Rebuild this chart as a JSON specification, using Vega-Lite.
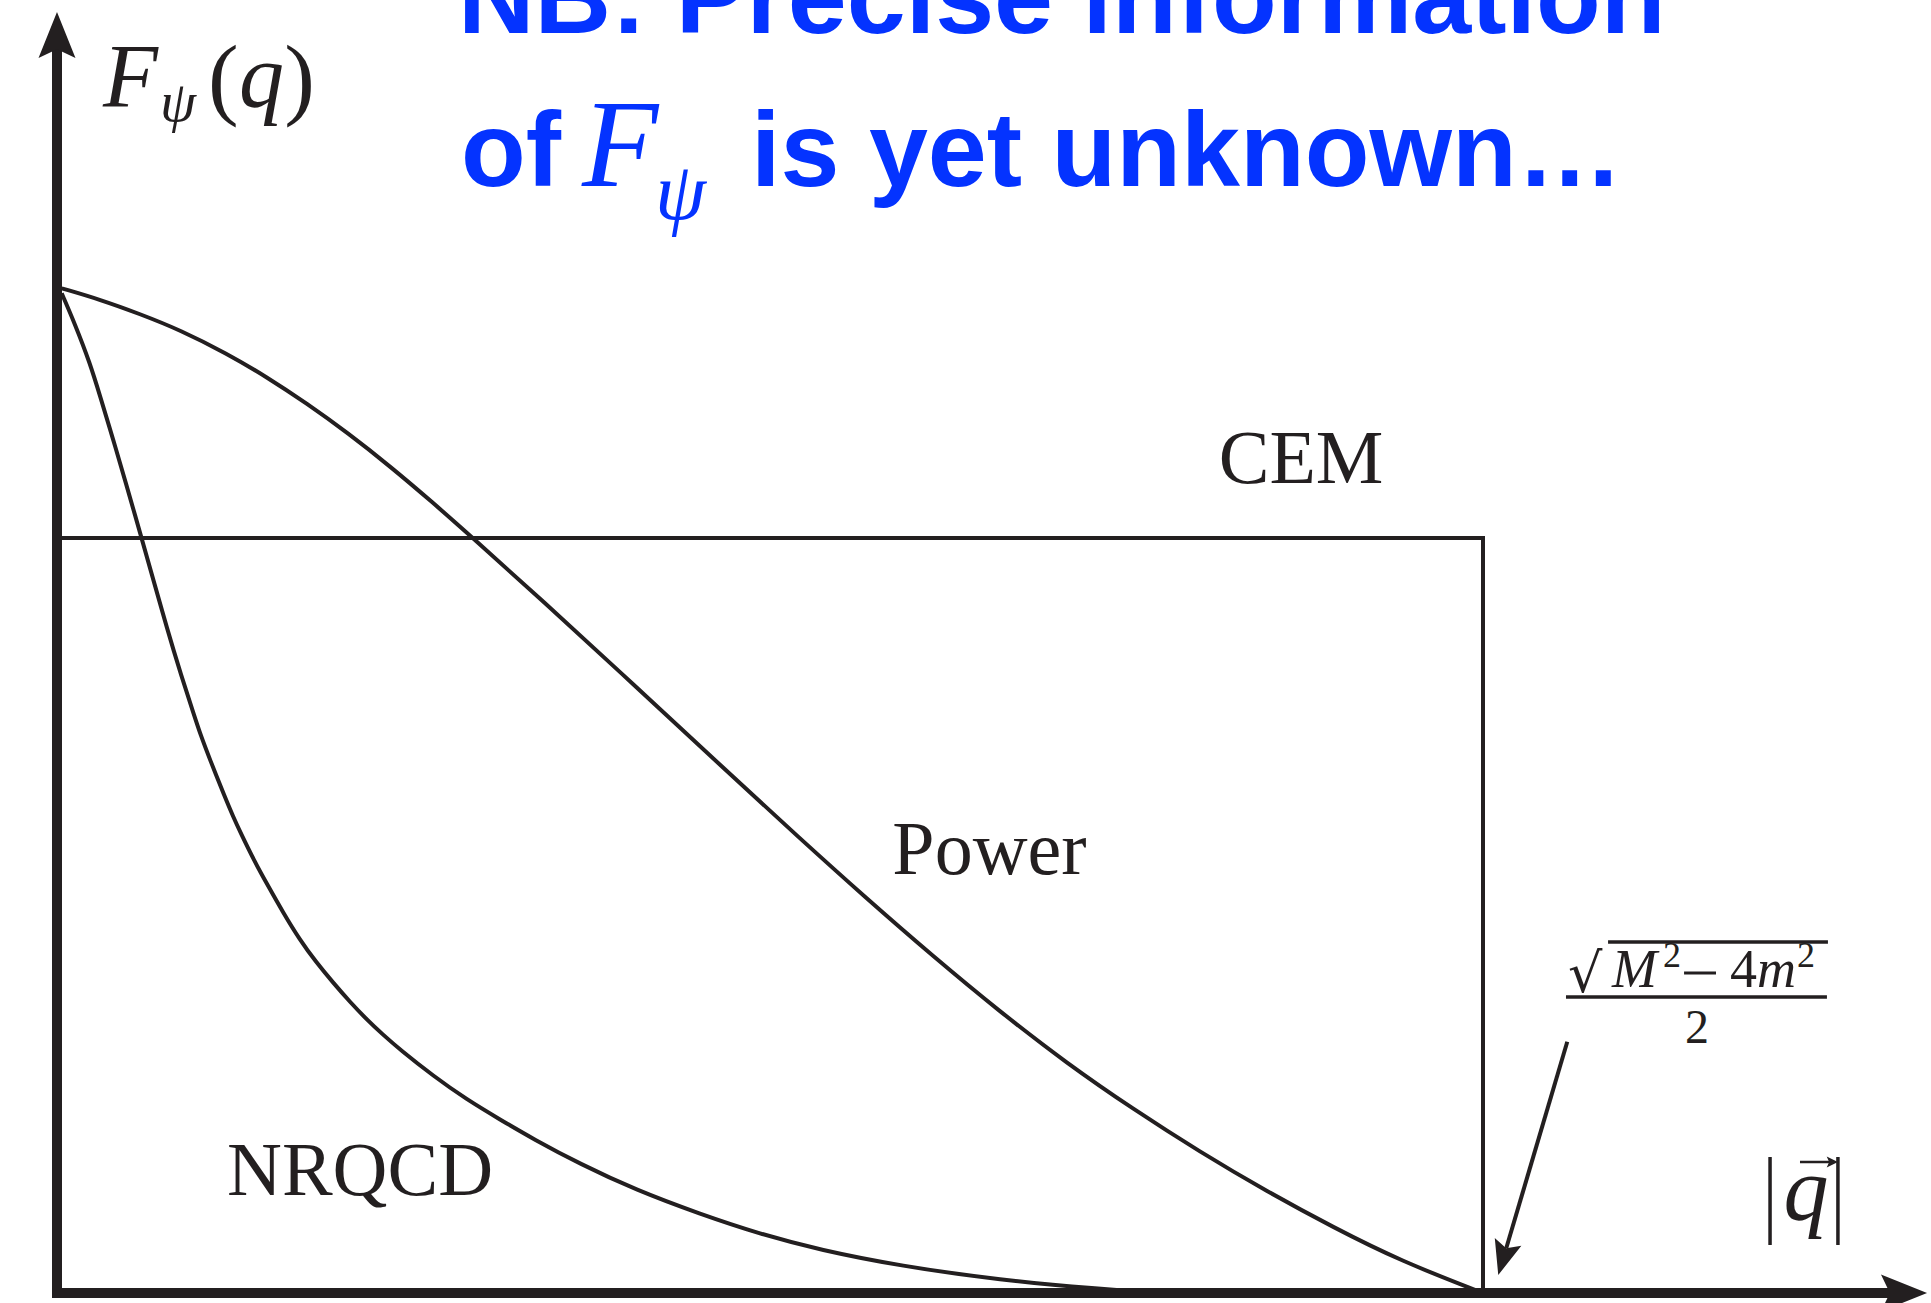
{
  "$schema": "https://vega.github.io/schema/vega-lite/v6.json",
  "width": 1931,
  "height": 1303,
  "autosize": {"type": "none"},
  "padding": 0,
  "background": "white",
  "config": {"view": {"stroke": null}},
  "data": {"values": [{}]},
  "datasets": {
    "models": [
      {"model": "Power", "q": 0.0033, "F": 1.3307},
      {"model": "Power", "q": 0.0302, "F": 1.3158},
      {"model": "Power", "q": 0.0582, "F": 1.2967},
      {"model": "Power", "q": 0.0863, "F": 1.2755},
      {"model": "Power", "q": 0.1190, "F": 1.2445},
      {"model": "Power", "q": 0.1471, "F": 1.2132},
      {"model": "Power", "q": 0.1751, "F": 1.1783},
      {"model": "Power", "q": 0.2041, "F": 1.1389},
      {"model": "Power", "q": 0.2335, "F": 1.0951},
      {"model": "Power", "q": 0.2628, "F": 1.0482},
      {"model": "Power", "q": 0.2919, "F": 0.9995},
      {"model": "Power", "q": 0.3387, "F": 0.9200},
      {"model": "Power", "q": 0.4046, "F": 0.8056},
      {"model": "Power", "q": 0.4672, "F": 0.6956},
      {"model": "Power", "q": 0.5210, "F": 0.6020},
      {"model": "Power", "q": 0.5673, "F": 0.5233},
      {"model": "Power", "q": 0.6143, "F": 0.4461},
      {"model": "Power", "q": 0.6613, "F": 0.3725},
      {"model": "Power", "q": 0.7081, "F": 0.3044},
      {"model": "Power", "q": 0.7548, "F": 0.2434},
      {"model": "Power", "q": 0.8015, "F": 0.1869},
      {"model": "Power", "q": 0.8483, "F": 0.1347},
      {"model": "Power", "q": 0.8950, "F": 0.0870},
      {"model": "Power", "q": 0.9418, "F": 0.0428},
      {"model": "Power", "q": 1.0, "F": 0.0},
      {"model": "NRQCD", "q": 0.0033, "F": 1.3241},
      {"model": "NRQCD", "q": 0.0126, "F": 1.2834},
      {"model": "NRQCD", "q": 0.0231, "F": 1.2318},
      {"model": "NRQCD", "q": 0.0302, "F": 1.1881},
      {"model": "NRQCD", "q": 0.0395, "F": 1.1298},
      {"model": "NRQCD", "q": 0.0477, "F": 1.0768},
      {"model": "NRQCD", "q": 0.0594, "F": 0.9993},
      {"model": "NRQCD", "q": 0.0687, "F": 0.9371},
      {"model": "NRQCD", "q": 0.0769, "F": 0.8821},
      {"model": "NRQCD", "q": 0.0863, "F": 0.8225},
      {"model": "NRQCD", "q": 0.0968, "F": 0.7616},
      {"model": "NRQCD", "q": 0.1003, "F": 0.7413},
      {"model": "NRQCD", "q": 0.1073, "F": 0.7062},
      {"model": "NRQCD", "q": 0.1178, "F": 0.6566},
      {"model": "NRQCD", "q": 0.1236, "F": 0.6307},
      {"model": "NRQCD", "q": 0.1283, "F": 0.6114},
      {"model": "NRQCD", "q": 0.1388, "F": 0.5706},
      {"model": "NRQCD", "q": 0.1471, "F": 0.5424},
      {"model": "NRQCD", "q": 0.1585, "F": 0.5042},
      {"model": "NRQCD", "q": 0.1704, "F": 0.4675},
      {"model": "NRQCD", "q": 0.1816, "F": 0.4384},
      {"model": "NRQCD", "q": 0.1938, "F": 0.4106},
      {"model": "NRQCD", "q": 0.2055, "F": 0.3854},
      {"model": "NRQCD", "q": 0.2172, "F": 0.3623},
      {"model": "NRQCD", "q": 0.2286, "F": 0.3421},
      {"model": "NRQCD", "q": 0.2405, "F": 0.3225},
      {"model": "NRQCD", "q": 0.2639, "F": 0.2874},
      {"model": "NRQCD", "q": 0.2873, "F": 0.2563},
      {"model": "NRQCD", "q": 0.3107, "F": 0.2298},
      {"model": "NRQCD", "q": 0.3340, "F": 0.2040},
      {"model": "NRQCD", "q": 0.3668, "F": 0.1709},
      {"model": "NRQCD", "q": 0.4060, "F": 0.1364},
      {"model": "NRQCD", "q": 0.4509, "F": 0.1046},
      {"model": "NRQCD", "q": 0.4930, "F": 0.0781},
      {"model": "NRQCD", "q": 0.5351, "F": 0.0570},
      {"model": "NRQCD", "q": 0.5912, "F": 0.0358},
      {"model": "NRQCD", "q": 0.6613, "F": 0.0172},
      {"model": "NRQCD", "q": 0.7314, "F": 0.0053},
      {"model": "NRQCD", "q": 0.7665, "F": 0.0013},
      {"model": "CEM", "q": 0.003, "F": 1.0},
      {"model": "CEM", "q": 1.0, "F": 1.0},
      {"model": "CEM", "q": 1.0, "F": 0.0}
    ]
  },
  "layer": [
    {
      "data": {"name": "models"},
      "transform": [{"filter": "datum.model != 'CEM'"}],
      "mark": {"type": "line", "interpolate": "basis", "stroke": "#231f20", "strokeWidth": 4},
      "encoding": {
        "x": {"field": "q", "type": "quantitative", "scale": {"domain": [-0.03997, 1.31417], "nice": false, "zero": false}, "axis": null},
        "y": {"field": "F", "type": "quantitative", "scale": {"domain": [-0.013245, 1.71258], "nice": false, "zero": false}, "axis": null},
        "detail": {"field": "model"}
      }
    },
    {
      "data": {"name": "models"},
      "transform": [{"filter": "datum.model == 'CEM'"}],
      "mark": {"type": "line", "interpolate": "linear", "stroke": "#231f20", "strokeWidth": 4, "strokeJoin": "miter"},
      "encoding": {
        "x": {"field": "q", "type": "quantitative", "scale": {"domain": [-0.03997, 1.31417], "nice": false, "zero": false}, "axis": null},
        "y": {"field": "F", "type": "quantitative", "scale": {"domain": [-0.013245, 1.71258], "nice": false, "zero": false}, "axis": null},
        "order": [{"field": "F", "sort": "descending"}, {"field": "q", "sort": "ascending"}]
      }
    },
    {
      "mark": {"type": "rule", "stroke": "#231f20", "strokeWidth": 10, "strokeCap": "butt"},
      "encoding": {
        "x": {"datum": 0, "type": "quantitative", "scale": {"domain": [-0.03997, 1.31417], "nice": false, "zero": false}, "axis": null},
        "y": {"datum": -0.0066, "type": "quantitative", "scale": {"domain": [-0.013245, 1.71258], "nice": false, "zero": false}, "axis": null},
        "y2": {"datum": 1.6517}
      }
    },
    {
      "mark": {"type": "rule", "stroke": "#231f20", "strokeWidth": 10, "strokeCap": "butt"},
      "encoding": {
        "x": {"datum": -0.0035, "type": "quantitative", "scale": {"domain": [-0.03997, 1.31417], "nice": false, "zero": false}, "axis": null},
        "x2": {"datum": 1.29},
        "y": {"datum": 0, "type": "quantitative", "scale": {"domain": [-0.013245, 1.71258], "nice": false, "zero": false}, "axis": null}
      }
    },
    {
      "mark": {"type": "point", "shape": "M0,0L-0.77,1.92L0,1.55L0.77,1.92Z", "size": 2304, "filled": true, "fill": "#231f20", "strokeWidth": 0, "opacity": 1},
      "encoding": {
        "x": {"datum": 0, "type": "quantitative", "scale": {"domain": [-0.03997, 1.31417], "nice": false, "zero": false}, "axis": null},
        "y": {"datum": 1.6967, "type": "quantitative", "scale": {"domain": [-0.013245, 1.71258], "nice": false, "zero": false}, "axis": null}
      }
    },
    {
      "mark": {"type": "point", "shape": "M0,0L-1.92,-0.77L-1.55,0L-1.92,0.77Z", "size": 2304, "filled": true, "fill": "#231f20", "strokeWidth": 0, "opacity": 1},
      "encoding": {
        "x": {"datum": 1.3114, "type": "quantitative", "scale": {"domain": [-0.03997, 1.31417], "nice": false, "zero": false}, "axis": null},
        "y": {"datum": 0, "type": "quantitative", "scale": {"domain": [-0.013245, 1.71258], "nice": false, "zero": false}, "axis": null}
      }
    },
    {
      "mark": {"type": "rule", "stroke": "#231f20", "strokeWidth": 4, "strokeCap": "butt"},
      "encoding": {
        "x": {"datum": 1.0591, "type": "quantitative", "scale": {"domain": [-0.03997, 1.31417], "nice": false, "zero": false}, "axis": null},
        "x2": {"datum": 1.0163},
        "y": {"datum": 0.3328, "type": "quantitative", "scale": {"domain": [-0.013245, 1.71258], "nice": false, "zero": false}, "axis": null},
        "y2": {"datum": 0.0593}
      }
    },
    {
      "mark": {"type": "point", "shape": "M0,0L-0.77,1.92L0,1.55L0.77,1.92Z", "size": 1296, "angle": 196.5, "filled": true, "fill": "#231f20", "strokeWidth": 0, "opacity": 1},
      "encoding": {
        "x": {"datum": 1.0107, "type": "quantitative", "scale": {"domain": [-0.03997, 1.31417], "nice": false, "zero": false}, "axis": null},
        "y": {"datum": 0.0238, "type": "quantitative", "scale": {"domain": [-0.013245, 1.71258], "nice": false, "zero": false}, "axis": null}
      }
    },
    {
      "mark": {"type": "text", "text": "NB: Precise information", "font": "Liberation Sans", "fontWeight": "bold", "fontSize": 106, "fill": "#0433ff", "align": "left", "baseline": "alphabetic"},
      "encoding": {
        "x": {"datum": 0.2812, "type": "quantitative", "scale": {"domain": [-0.03997, 1.31417], "nice": false, "zero": false}, "axis": null},
        "y": {"datum": 1.6689, "type": "quantitative", "scale": {"domain": [-0.013245, 1.71258], "nice": false, "zero": false}, "axis": null}
      }
    },
    {
      "mark": {"type": "text", "text": "of", "font": "Liberation Sans", "fontWeight": "bold", "fontSize": 106, "fill": "#0433ff", "align": "left", "baseline": "alphabetic"},
      "encoding": {
        "x": {"datum": 0.2833, "type": "quantitative", "scale": {"domain": [-0.03997, 1.31417], "nice": false, "zero": false}, "axis": null},
        "y": {"datum": 1.4666, "type": "quantitative", "scale": {"domain": [-0.013245, 1.71258], "nice": false, "zero": false}, "axis": null}
      }
    },
    {
      "mark": {"type": "text", "text": "F", "font": "Liberation Serif", "fontStyle": "italic", "fontSize": 125, "fill": "#0433ff", "align": "left", "baseline": "alphabetic"},
      "encoding": {
        "x": {"datum": 0.3682, "type": "quantitative", "scale": {"domain": [-0.03997, 1.31417], "nice": false, "zero": false}, "axis": null},
        "y": {"datum": 1.4666, "type": "quantitative", "scale": {"domain": [-0.013245, 1.71258], "nice": false, "zero": false}, "axis": null}
      }
    },
    {
      "mark": {"type": "text", "text": "ψ", "font": "Liberation Serif", "fontStyle": "italic", "fontSize": 82, "fill": "#0433ff", "align": "left", "baseline": "alphabetic"},
      "encoding": {
        "x": {"datum": 0.4194, "type": "quantitative", "scale": {"domain": [-0.03997, 1.31417], "nice": false, "zero": false}, "axis": null},
        "y": {"datum": 1.4225, "type": "quantitative", "scale": {"domain": [-0.013245, 1.71258], "nice": false, "zero": false}, "axis": null}
      }
    },
    {
      "mark": {"type": "text", "text": "is yet unknown…", "font": "Liberation Sans", "fontWeight": "bold", "fontSize": 106, "fill": "#0433ff", "align": "left", "baseline": "alphabetic"},
      "encoding": {
        "x": {"datum": 0.4867, "type": "quantitative", "scale": {"domain": [-0.03997, 1.31417], "nice": false, "zero": false}, "axis": null},
        "y": {"datum": 1.4666, "type": "quantitative", "scale": {"domain": [-0.013245, 1.71258], "nice": false, "zero": false}, "axis": null}
      }
    },
    {
      "mark": {"type": "text", "text": "F", "font": "Liberation Serif", "fontStyle": "italic", "fontSize": 90, "fill": "#231f20", "align": "left", "baseline": "alphabetic"},
      "encoding": {
        "x": {"datum": 0.0323, "type": "quantitative", "scale": {"domain": [-0.03997, 1.31417], "nice": false, "zero": false}, "axis": null},
        "y": {"datum": 1.5709, "type": "quantitative", "scale": {"domain": [-0.013245, 1.71258], "nice": false, "zero": false}, "axis": null}
      }
    },
    {
      "mark": {"type": "text", "text": "ψ", "font": "Liberation Serif", "fontStyle": "italic", "fontSize": 58, "fill": "#231f20", "align": "left", "baseline": "alphabetic"},
      "encoding": {
        "x": {"datum": 0.0722, "type": "quantitative", "scale": {"domain": [-0.03997, 1.31417], "nice": false, "zero": false}, "axis": null},
        "y": {"datum": 1.5523, "type": "quantitative", "scale": {"domain": [-0.013245, 1.71258], "nice": false, "zero": false}, "axis": null}
      }
    },
    {
      "mark": {"type": "text", "text": "(", "font": "Liberation Serif", "fontSize": 92, "fill": "#231f20", "align": "left", "baseline": "alphabetic"},
      "encoding": {
        "x": {"datum": 0.1059, "type": "quantitative", "scale": {"domain": [-0.03997, 1.31417], "nice": false, "zero": false}, "axis": null},
        "y": {"datum": 1.5695, "type": "quantitative", "scale": {"domain": [-0.013245, 1.71258], "nice": false, "zero": false}, "axis": null}
      }
    },
    {
      "mark": {"type": "text", "text": "q", "font": "Liberation Serif", "fontStyle": "italic", "fontSize": 90, "fill": "#231f20", "align": "left", "baseline": "alphabetic"},
      "encoding": {
        "x": {"datum": 0.1276, "type": "quantitative", "scale": {"domain": [-0.03997, 1.31417], "nice": false, "zero": false}, "axis": null},
        "y": {"datum": 1.5709, "type": "quantitative", "scale": {"domain": [-0.013245, 1.71258], "nice": false, "zero": false}, "axis": null}
      }
    },
    {
      "mark": {"type": "text", "text": ")", "font": "Liberation Serif", "fontSize": 92, "fill": "#231f20", "align": "right", "baseline": "alphabetic"},
      "encoding": {
        "x": {"datum": 0.1809, "type": "quantitative", "scale": {"domain": [-0.03997, 1.31417], "nice": false, "zero": false}, "axis": null},
        "y": {"datum": 1.5695, "type": "quantitative", "scale": {"domain": [-0.013245, 1.71258], "nice": false, "zero": false}, "axis": null}
      }
    },
    {
      "mark": {"type": "text", "text": "CEM", "font": "Liberation Serif", "fontSize": 76, "fill": "#231f20", "align": "center", "baseline": "alphabetic"},
      "encoding": {
        "x": {"datum": 0.8724, "type": "quantitative", "scale": {"domain": [-0.03997, 1.31417], "nice": false, "zero": false}, "axis": null},
        "y": {"datum": 1.0733, "type": "quantitative", "scale": {"domain": [-0.013245, 1.71258], "nice": false, "zero": false}, "axis": null}
      }
    },
    {
      "mark": {"type": "text", "text": "Power", "font": "Liberation Serif", "fontSize": 76, "fill": "#231f20", "align": "center", "baseline": "alphabetic"},
      "encoding": {
        "x": {"datum": 0.6539, "type": "quantitative", "scale": {"domain": [-0.03997, 1.31417], "nice": false, "zero": false}, "axis": null},
        "y": {"datum": 0.5544, "type": "quantitative", "scale": {"domain": [-0.013245, 1.71258], "nice": false, "zero": false}, "axis": null}
      }
    },
    {
      "mark": {"type": "text", "text": "NRQCD", "font": "Liberation Serif", "fontSize": 76, "fill": "#231f20", "align": "center", "baseline": "alphabetic"},
      "encoding": {
        "x": {"datum": 0.2125, "type": "quantitative", "scale": {"domain": [-0.03997, 1.31417], "nice": false, "zero": false}, "axis": null},
        "y": {"datum": 0.1303, "type": "quantitative", "scale": {"domain": [-0.013245, 1.71258], "nice": false, "zero": false}, "axis": null}
      }
    },
    {
      "mark": {"type": "text", "text": "√", "font": "DejaVu Serif", "fontSize": 54, "fill": "#231f20", "align": "left", "baseline": "alphabetic"},
      "encoding": {
        "x": {"datum": 1.0596, "type": "quantitative", "scale": {"domain": [-0.03997, 1.31417], "nice": false, "zero": false}, "axis": null},
        "y": {"datum": 0.3987, "type": "quantitative", "scale": {"domain": [-0.013245, 1.71258], "nice": false, "zero": false}, "axis": null}
      }
    },
    {
      "mark": {"type": "rule", "stroke": "#231f20", "strokeWidth": 3.3, "strokeCap": "butt"},
      "encoding": {
        "x": {"datum": 1.0877, "type": "quantitative", "scale": {"domain": [-0.03997, 1.31417], "nice": false, "zero": false}, "axis": null},
        "x2": {"datum": 1.2419},
        "y": {"datum": 0.4649, "type": "quantitative", "scale": {"domain": [-0.013245, 1.71258], "nice": false, "zero": false}, "axis": null}
      }
    },
    {
      "mark": {"type": "text", "text": "M", "font": "Liberation Serif", "fontStyle": "italic", "fontSize": 54, "fill": "#231f20", "align": "left", "baseline": "alphabetic"},
      "encoding": {
        "x": {"datum": 1.0905, "type": "quantitative", "scale": {"domain": [-0.03997, 1.31417], "nice": false, "zero": false}, "axis": null},
        "y": {"datum": 0.4053, "type": "quantitative", "scale": {"domain": [-0.013245, 1.71258], "nice": false, "zero": false}, "axis": null}
      }
    },
    {
      "mark": {"type": "text", "text": "2", "font": "Liberation Serif", "fontSize": 36, "fill": "#231f20", "align": "left", "baseline": "alphabetic"},
      "encoding": {
        "x": {"datum": 1.1262, "type": "quantitative", "scale": {"domain": [-0.03997, 1.31417], "nice": false, "zero": false}, "axis": null},
        "y": {"datum": 0.4318, "type": "quantitative", "scale": {"domain": [-0.013245, 1.71258], "nice": false, "zero": false}, "axis": null}
      }
    },
    {
      "mark": {"type": "rule", "stroke": "#231f20", "strokeWidth": 3, "strokeCap": "butt"},
      "encoding": {
        "x": {"datum": 1.1410, "type": "quantitative", "scale": {"domain": [-0.03997, 1.31417], "nice": false, "zero": false}, "axis": null},
        "x2": {"datum": 1.1634},
        "y": {"datum": 0.4238, "type": "quantitative", "scale": {"domain": [-0.013245, 1.71258], "nice": false, "zero": false}, "axis": null}
      }
    },
    {
      "mark": {"type": "text", "text": "4", "font": "Liberation Serif", "fontSize": 54, "fill": "#231f20", "align": "left", "baseline": "alphabetic"},
      "encoding": {
        "x": {"datum": 1.1732, "type": "quantitative", "scale": {"domain": [-0.03997, 1.31417], "nice": false, "zero": false}, "axis": null},
        "y": {"datum": 0.4053, "type": "quantitative", "scale": {"domain": [-0.013245, 1.71258], "nice": false, "zero": false}, "axis": null}
      }
    },
    {
      "mark": {"type": "text", "text": "m", "font": "Liberation Serif", "fontStyle": "italic", "fontSize": 54, "fill": "#231f20", "align": "left", "baseline": "alphabetic"},
      "encoding": {
        "x": {"datum": 1.1921, "type": "quantitative", "scale": {"domain": [-0.03997, 1.31417], "nice": false, "zero": false}, "axis": null},
        "y": {"datum": 0.4053, "type": "quantitative", "scale": {"domain": [-0.013245, 1.71258], "nice": false, "zero": false}, "axis": null}
      }
    },
    {
      "mark": {"type": "text", "text": "2", "font": "Liberation Serif", "fontSize": 36, "fill": "#231f20", "align": "left", "baseline": "alphabetic"},
      "encoding": {
        "x": {"datum": 1.2202, "type": "quantitative", "scale": {"domain": [-0.03997, 1.31417], "nice": false, "zero": false}, "axis": null},
        "y": {"datum": 0.4318, "type": "quantitative", "scale": {"domain": [-0.013245, 1.71258], "nice": false, "zero": false}, "axis": null}
      }
    },
    {
      "mark": {"type": "rule", "stroke": "#231f20", "strokeWidth": 3.5, "strokeCap": "butt"},
      "encoding": {
        "x": {"datum": 1.0582, "type": "quantitative", "scale": {"domain": [-0.03997, 1.31417], "nice": false, "zero": false}, "axis": null},
        "x2": {"datum": 1.2412},
        "y": {"datum": 0.3921, "type": "quantitative", "scale": {"domain": [-0.013245, 1.71258], "nice": false, "zero": false}, "axis": null}
      }
    },
    {
      "mark": {"type": "text", "text": "2", "font": "Liberation Serif", "fontSize": 48, "fill": "#231f20", "align": "center", "baseline": "alphabetic"},
      "encoding": {
        "x": {"datum": 1.1501, "type": "quantitative", "scale": {"domain": [-0.03997, 1.31417], "nice": false, "zero": false}, "axis": null},
        "y": {"datum": 0.3311, "type": "quantitative", "scale": {"domain": [-0.013245, 1.71258], "nice": false, "zero": false}, "axis": null}
      }
    },
    {
      "mark": {"type": "rule", "stroke": "#231f20", "strokeWidth": 3.5, "strokeCap": "butt"},
      "encoding": {
        "x": {"datum": 1.2013, "type": "quantitative", "scale": {"domain": [-0.03997, 1.31417], "nice": false, "zero": false}, "axis": null},
        "y": {"datum": 0.0636, "type": "quantitative", "scale": {"domain": [-0.013245, 1.71258], "nice": false, "zero": false}, "axis": null},
        "y2": {"datum": 0.1801}
      }
    },
    {
      "mark": {"type": "rule", "stroke": "#231f20", "strokeWidth": 3.5, "strokeCap": "butt"},
      "encoding": {
        "x": {"datum": 1.2489, "type": "quantitative", "scale": {"domain": [-0.03997, 1.31417], "nice": false, "zero": false}, "axis": null},
        "y": {"datum": 0.0636, "type": "quantitative", "scale": {"domain": [-0.013245, 1.71258], "nice": false, "zero": false}, "axis": null},
        "y2": {"datum": 0.1801}
      }
    },
    {
      "mark": {"type": "text", "text": "q", "font": "Liberation Serif", "fontStyle": "italic", "fontSize": 90, "fill": "#231f20", "align": "center", "baseline": "alphabetic"},
      "encoding": {
        "x": {"datum": 1.2265, "type": "quantitative", "scale": {"domain": [-0.03997, 1.31417], "nice": false, "zero": false}, "axis": null},
        "y": {"datum": 0.0967, "type": "quantitative", "scale": {"domain": [-0.013245, 1.71258], "nice": false, "zero": false}, "axis": null}
      }
    },
    {
      "mark": {"type": "rule", "stroke": "#231f20", "strokeWidth": 2.5, "strokeCap": "butt"},
      "encoding": {
        "x": {"datum": 1.2223, "type": "quantitative", "scale": {"domain": [-0.03997, 1.31417], "nice": false, "zero": false}, "axis": null},
        "x2": {"datum": 1.2461},
        "y": {"datum": 0.1735, "type": "quantitative", "scale": {"domain": [-0.013245, 1.71258], "nice": false, "zero": false}, "axis": null}
      }
    },
    {
      "mark": {"type": "point", "shape": "M0,0L-1.6,-0.8L-1.25,0L-1.6,0.8Z", "size": 196, "filled": true, "fill": "#231f20", "strokeWidth": 0, "opacity": 1},
      "encoding": {
        "x": {"datum": 1.2489, "type": "quantitative", "scale": {"domain": [-0.03997, 1.31417], "nice": false, "zero": false}, "axis": null},
        "y": {"datum": 0.1735, "type": "quantitative", "scale": {"domain": [-0.013245, 1.71258], "nice": false, "zero": false}, "axis": null}
      }
    }
  ]
}
